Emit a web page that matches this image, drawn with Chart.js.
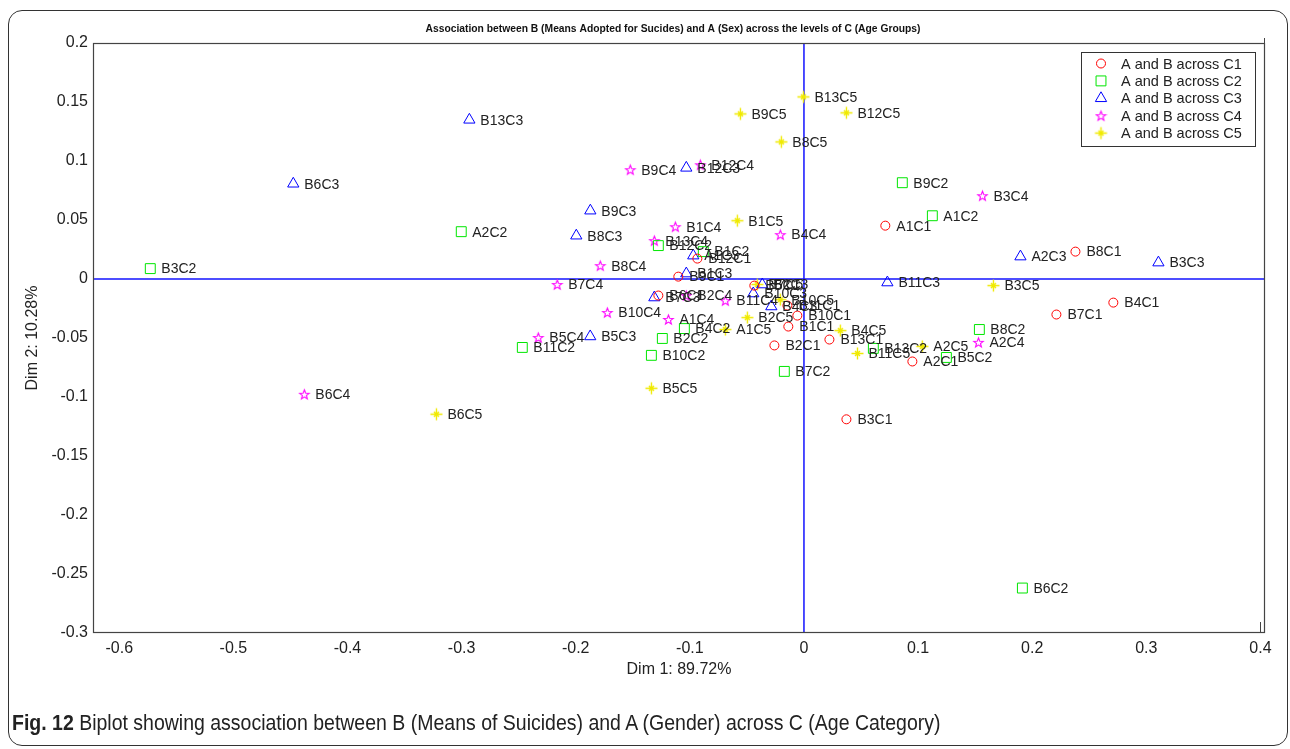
<!DOCTYPE html>
<html><head><meta charset="utf-8">
<script src="https://cdn.jsdelivr.net/npm/chart.js@4.4.1/dist/chart.umd.min.js"></script>
<style>
html,body{margin:0;padding:0;background:#fff;}
#wrap{position:relative;width:1290px;height:749px;overflow:hidden;background:#fff;}
#c{position:absolute;left:0;top:0;}
#frame{position:absolute;left:8px;top:10px;width:1280px;height:736px;box-sizing:border-box;border:1.5px solid #333;border-radius:14px;pointer-events:none;}
#cap{position:absolute;left:12px;top:710px;font-family:'Liberation Sans',Arial,sans-serif;font-size:22px;line-height:26px;color:#222;white-space:nowrap;transform:scaleX(0.886);transform-origin:0 50%;}
</style></head><body>
<div id="wrap">
<canvas id="c" width="1290" height="749"></canvas>
<div id="frame"></div>
<div id="cap"><b>Fig. 12</b> Biplot showing association between B (Means of Suicides) and A (Gender) across C (Age Category)</div>
</div>
<script>
// ---------- data ----------
const pointNames = ['A1','A2','B1','B2','B3','B4','B5','B6','B7','B8','B9','B10','B11','B12','B13'];
const groupNames = ['C1','C2','C3','C4','C5'];
const legendLabels = ['A and B across C1','A and B across C2','A and B across C3','A and B across C4','A and B across C5'];
const chartTitle = 'Association between B (Means Adopted for Sucides) and A (Sex) across the levels of C (Age Groups)';

const c1X = [0.0713, 0.0950, -0.0137, -0.0259, 0.0372, 0.2711, -0.0435, -0.1276, 0.2212, 0.2379, -0.1101, -0.0058, -0.0145, -0.0934, 0.0223];
const c1Y = [0.0452, -0.0699, -0.0403, -0.0563, -0.1189, -0.0200, -0.0056, -0.0140, -0.0301, 0.0232, 0.0020, -0.0310, -0.0225, 0.0173, -0.0513];

const c2X = [0.1125, -0.3003, -0.0882, -0.1241, -0.5728, -0.1048, 0.1248, 0.1914, -0.0172, 0.1537, 0.0862, -0.1337, -0.2468, -0.1276, 0.0608];
const c2Y = [0.0536, 0.0401, 0.0232, -0.0504, 0.0088, -0.0420, -0.0665, -0.2619, -0.0783, -0.0428, 0.0816, -0.0647, -0.0580, 0.0283, -0.0588];

const c3X = [-0.0970, 0.1897, -0.1031, -0.0365, 0.3106, -0.0286, -0.1873, -0.4475, -0.1311, -0.1995, -0.1872, -0.0444, 0.0731, -0.1031, -0.2932];
const c3Y = [0.0198, 0.0190, 0.0046, -0.0047, 0.0139, -0.0233, -0.0487, 0.0807, -0.0157, 0.0367, 0.0579, -0.0123, -0.0030, 0.0942, 0.1349];

const c4X = [-0.1188, 0.1529, -0.1127, -0.1031, 0.1564, -0.0207, -0.2328, -0.4378, -0.2162, -0.1785, -0.1522, -0.1723, -0.0689, -0.0908, -0.1311];
const c4Y = [-0.0343, -0.0537, 0.0443, -0.0140, 0.0706, 0.0376, -0.0496, -0.0977, -0.0047, 0.0113, 0.0926, -0.0284, -0.0183, 0.0968, 0.0325];

const c5X = [-0.0689, 0.1037, -0.0584, -0.0496, 0.1660, 0.0319, -0.1337, -0.3221, -0.0409, -0.0198, -0.0557, -0.0207, 0.0469, 0.0372, -0.0005];
const c5Y = [-0.0428, -0.0571, 0.0494, -0.0327, -0.0056, -0.0437, -0.0926, -0.1146, -0.0047, 0.1162, 0.1399, -0.0175, -0.0631, 0.1408, 0.1543];

const xTickValues = [-0.6, -0.5, -0.4, -0.3, -0.2, -0.1, 0, 0.1, 0.2, 0.3, 0.4];
const yTickValues = [-0.3, -0.25, -0.2, -0.15, -0.1, -0.05, 0, 0.05, 0.1, 0.15, 0.2];
const xLimits = [-0.623, 0.404];
const yLimits = [-0.3, 0.2];

// ---------- styles ----------
const FONT = "'Liberation Sans', Arial, sans-serif";
function makePentagram(color, R) {
  const s = Math.ceil(2 * R + 3);
  const cv = document.createElement('canvas');
  cv.width = s; cv.height = s;
  const g = cv.getContext('2d');
  g.strokeStyle = color; g.lineWidth = 1.1;
  const cx = s / 2, cy = s / 2 + 0.5, r = R * 0.42;
  g.beginPath();
  for (let i = 0; i < 10; i++) {
    const a = -Math.PI / 2 + i * Math.PI / 5;
    const rr = i % 2 ? r : R;
    const px = cx + rr * Math.cos(a), py = cy + rr * Math.sin(a);
    if (i) g.lineTo(px, py); else g.moveTo(px, py);
  }
  g.closePath(); g.stroke();
  return cv;
}
function makeSparkle(color, R, r) {
  const s = 2 * R + 3;
  const cv = document.createElement('canvas');
  cv.width = s; cv.height = s;
  const g = cv.getContext('2d');
  const c = s / 2;
  g.strokeStyle = color; g.lineWidth = 1.4;
  g.beginPath();
  g.moveTo(c - R, c); g.lineTo(c + R, c);
  g.moveTo(c, c - R); g.lineTo(c, c + R);
  g.moveTo(c - r, c - r); g.lineTo(c + r, c + r);
  g.moveTo(c - r, c + r); g.lineTo(c + r, c - r);
  g.stroke();
  return cv;
}
const star5 = makePentagram('#ff00ff', 5);
const sparkle = makeSparkle('#f0ea00', 6, 2.5);

const seriesX = [c1X, c2X, c3X, c4X, c5X];
const seriesY = [c1Y, c2Y, c3Y, c4Y, c5Y];
const seriesStyle = [
  {color: '#ff0000', style: 'circle', radius: 4.5},
  {color: '#00e600', style: 'rect', radius: 7},
  {color: '#0000ff', style: 'triangle', radius: 6.5},
  {color: '#ff00ff', style: star5, radius: 5},
  {color: '#f0ea00', style: sparkle, radius: 6}
];

const datasets = seriesX.map((xs, k) => ({
  label: legendLabels[k],
  data: xs.map((v, i) => ({x: v, y: seriesY[k][i]})),
  pointStyle: seriesStyle[k].style,
  pointRadius: seriesStyle[k].radius,
  pointHoverRadius: seriesStyle[k].radius,
  pointBorderWidth: 1,
  borderColor: seriesStyle[k].color,
  backgroundColor: 'rgba(0,0,0,0)',
  showLine: false
}));

function drawZeroLines(chart) {
  const {ctx, chartArea: a, scales: {x, y}} = chart;
  ctx.save();
  ctx.strokeStyle = 'rgb(20,20,255)';
  ctx.lineWidth = 1.5;
  const x0 = x.getPixelForValue(0);
  const y0 = y.getPixelForValue(0);
  ctx.beginPath();
  ctx.moveTo(x0, a.top); ctx.lineTo(x0, a.bottom);
  ctx.moveTo(a.left, y0); ctx.lineTo(a.right, y0);
  ctx.stroke();
  ctx.restore();
}

const decor = {
  id: 'decor',
  beforeDatasetsDraw(chart) {
    drawZeroLines(chart);
  },
  afterDatasetsDraw(chart) {
    const {ctx, chartArea: a, scales: {x, y}} = chart;
    ctx.save();
    // title
    ctx.font = 'bold 10.3px ' + FONT;
    ctx.fillStyle = '#111';
    ctx.textAlign = 'center';
    ctx.textBaseline = 'middle';
    ctx.fillText(chartTitle, 673, 29);
    // point labels
    ctx.font = '14px ' + FONT;
    ctx.fillStyle = '#222';
    ctx.textBaseline = 'middle';
    ctx.textAlign = 'left';
    chart.data.datasets.forEach((ds, k) => {
      const meta = chart.getDatasetMeta(k);
      meta.data.forEach((el, i) => {
        ctx.fillText(pointNames[i] + groupNames[k], el.x + 11, el.y + 1);
      });
    });
    // axes box
    ctx.strokeStyle = '#444';
    ctx.lineWidth = 1.2;
    ctx.strokeRect(a.left + 0.5, a.top + 0.5, a.right - a.left - 1, a.bottom - a.top - 1);
    // short marks at the 0.4 tick (right edge)
    const p4 = Math.round(x.getPixelForValue(xTickValues[xTickValues.length - 1])) + 0.5;
    ctx.lineWidth = 1;
    ctx.beginPath();
    ctx.moveTo(p4, a.bottom); ctx.lineTo(p4, a.bottom - 11);
    ctx.moveTo(a.right - 0.5, a.top); ctx.lineTo(a.right - 0.5, a.top - 5);
    ctx.stroke();
    // legend
    const L = 1081, T = 52, R = 1255, B = 146;
    ctx.fillStyle = '#fff';
    ctx.fillRect(L, T, R - L, B - T);
    ctx.strokeStyle = '#333';
    ctx.lineWidth = 1;
    ctx.strokeRect(L + 0.5, T + 0.5, R - L, B - T);
    ctx.font = '14.5px ' + FONT;
    chart.data.datasets.forEach((ds, k) => {
      const cy = 63.5 + k * 17.4;
      ctx.strokeStyle = seriesStyle[k].color;
      ctx.fillStyle = 'rgba(0,0,0,0)';
      ctx.lineWidth = 1;
      Chart.helpers.drawPoint(ctx, {pointStyle: seriesStyle[k].style, radius: seriesStyle[k].radius, rotation: 0, borderWidth: 1}, 1101, cy);
      ctx.fillStyle = '#222';
      ctx.fillText(ds.label, 1121, cy + 1);
    });
    ctx.restore();
  }
};

new Chart(document.getElementById('c'), {
  type: 'scatter',
  data: {datasets},
  options: {
    responsive: false,
    animation: false,
    devicePixelRatio: 1,
    layout: {padding: {left: 0, right: 25, top: 43, bottom: 0}},
    plugins: {
      legend: {display: false},
      tooltip: {enabled: false},
      title: {display: false}
    },
    scales: {
      x: {
        type: 'linear',
        min: xLimits[0], max: xLimits[1],
        grid: {display: false, drawTicks: false},
        border: {display: false},
        afterBuildTicks: s => { s.ticks = xTickValues.map(v => ({value: v})); },
        afterFit: s => { s.height = 116; },
        ticks: {
          font: {family: FONT, size: 16},
          color: '#222',
          padding: 6,
          maxRotation: 0,
          autoSkip: false,
          callback: v => String(v)
        },
        title: {
          display: true,
          text: 'Dim 1: 89.72%',
          font: {family: FONT, size: 16},
          color: '#222',
          padding: {top: 0, bottom: 70}
        }
      },
      y: {
        type: 'linear',
        min: yLimits[0], max: yLimits[1],
        grid: {display: false, drawTicks: false},
        border: {display: false},
        afterBuildTicks: s => { s.ticks = yTickValues.map(v => ({value: v})); },
        afterFit: s => { s.width = 93; },
        ticks: {
          font: {family: FONT, size: 16},
          color: '#222',
          padding: 5,
          autoSkip: false,
          callback: v => String(v)
        },
        title: {
          display: true,
          text: 'Dim 2: 10.28%',
          font: {family: FONT, size: 16},
          color: '#222',
          padding: {top: 23, bottom: 0}
        }
      }
    }
  },
  plugins: [decor]
});
</script>
</body></html>
